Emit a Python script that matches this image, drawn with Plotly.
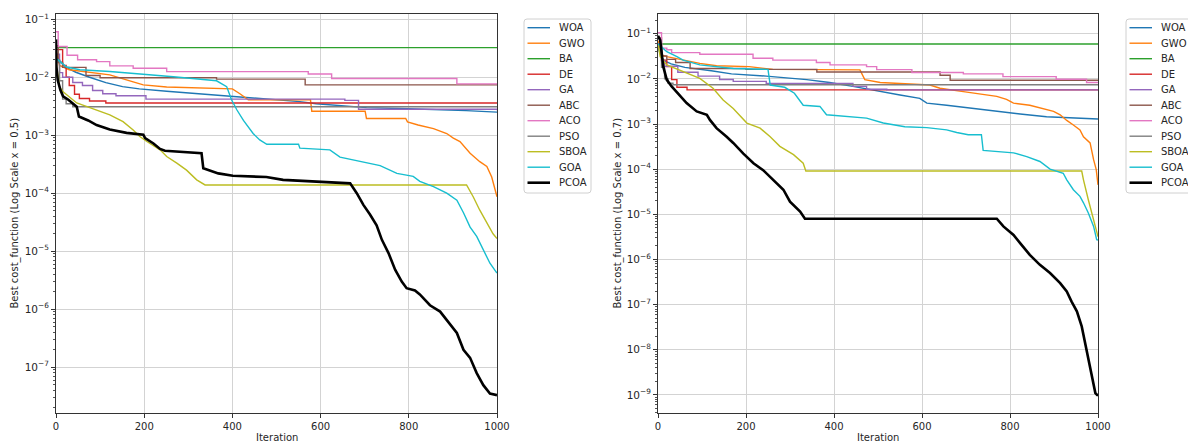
import plotly.graph_objects as go

# ---------------------------------------------------------------
# Convergence curves: (iteration, best cost) breakpoints.
# Suffix _05 -> panel "x = 0.5", _07 -> panel "x = 0.7".
# ---------------------------------------------------------------
ALGORITHMS = ["WOA", "GWO", "BA", "DE", "GA", "ABC", "ACO", "PSO", "SBOA", "GOA", "PCOA"]

WOA_05 = [(0, 2.2e-2), (8, 1.95e-2), (23, 1.48e-2), (45, 1.22e-2), (76, 1.0e-2), (113, 8.1e-3),
          (151, 6.9e-3), (189, 6.3e-3), (251, 5.75e-3), (326, 5.2e-3), (401, 4.7e-3), (477, 4.3e-3),
          (515, 4.0e-3), (553, 3.8e-3), (590, 3.5e-3), (629, 3.3e-3), (665, 3.15e-3), (704, 3.0e-3),
          (780, 2.9e-3), (855, 2.8e-3), (930, 2.66e-3), (1000, 2.5e-3)]
GWO_05 = [(0, 3.0e-2), (8, 1.6e-2), (30, 1.35e-2), (99, 1.15e-2), (122, 1.1e-2), (175, 8.3e-3),
          (198, 7.4e-3), (251, 6.8e-3), (326, 6.5e-3), (400, 6.3e-3), (417, 5.2e-3), (436, 4.1e-3),
          (577, 4.1e-3), (580, 2.6e-3), (701, 2.6e-3), (704, 1.95e-3), (793, 1.95e-3), (797, 1.7e-3),
          (821, 1.5e-3), (856, 1.3e-3), (886, 1.07e-3), (901, 8.9e-4), (916, 7.8e-4), (939, 4.9e-4),
          (961, 3.5e-4), (977, 2.9e-4), (988, 1.9e-4), (995, 1.23e-4), (1000, 8.7e-5)]
BA_05 = [(0, 3.24e-2), (1000, 3.24e-2)]
DE_05 = [(0, 3.0e-2), (15, 1.6e-2), (23, 1.0e-2), (30, 7.2e-3), (42, 5.1e-3), (53, 4.3e-3),
         (76, 3.9e-3), (113, 3.6e-3), (1000, 3.6e-3)]
GA_05 = [(0, 2.5e-2), (8, 1.2e-2), (15, 1.0e-2), (38, 8.1e-3), (60, 7.2e-3), (83, 5.9e-3),
         (106, 5.2e-3), (136, 4.8e-3), (204, 4.2e-3), (655, 4.0e-3), (686, 2.8e-3), (1000, 2.7e-3)]
ABC_05 = [(0, 3.5e-2), (5, 1.8e-2), (15, 1.48e-2), (68, 1.07e-2), (100, 9.8e-3), (364, 9.3e-3),
          (565, 7.4e-3), (1000, 7.4e-3)]
ACO_05 = [(0, 6.1e-2), (5, 3.4e-2), (25, 2.4e-2), (49, 2.0e-2), (92, 1.86e-2), (122, 1.57e-2),
          (175, 1.43e-2), (251, 1.25e-2), (572, 1.14e-2), (625, 9.5e-3), (909, 7.7e-3), (1000, 7.7e-3)]
PSO_05 = [(0, 2.0e-2), (8, 8.7e-3), (15, 4.2e-3), (23, 3.5e-3), (38, 3.1e-3), (1000, 3.1e-3)]
SBOA_05 = [(0, 2.0e-2), (1, 1.63e-2), (8, 6.9e-3), (16, 5.6e-3), (47, 3.6e-3), (92, 2.75e-3),
           (122, 2.24e-3), (152, 1.72e-3), (175, 1.23e-3), (190, 9.5e-4), (206, 7.8e-4), (236, 5.6e-4),
           (251, 4.3e-4), (274, 3.3e-4), (296, 2.5e-4), (319, 1.7e-4), (338, 1.39e-4), (931, 1.39e-4),
           (946, 8.7e-5), (961, 5.1e-5), (976, 3.2e-5), (991, 2.0e-5), (1000, 1.65e-5)]
GOA_05 = [(0, 2.5e-2), (1, 2.1e-2), (9, 1.86e-2), (24, 1.5e-2), (54, 1.35e-2), (122, 1.26e-2),
          (266, 1.02e-2), (326, 9.3e-3), (364, 8.7e-3), (387, 6.9e-3), (398, 4.1e-3), (410, 2.75e-3),
          (425, 1.8e-3), (447, 1.07e-3), (462, 8.3e-4), (478, 7.0e-4), (550, 7.0e-4), (553, 6.0e-4),
          (621, 5.6e-4), (644, 4.2e-4), (735, 3.0e-4), (773, 2.2e-4), (810, 1.95e-4), (825, 1.6e-4),
          (856, 1.3e-4), (886, 1.0e-4), (909, 7.6e-5), (924, 4.6e-5), (939, 2.6e-5), (954, 1.8e-5),
          (969, 1.05e-5), (984, 6.2e-6), (999, 4.3e-6), (1000, 4.3e-6)]
PCOA_05 = [(0, 4.5e-2), (1, 1.5e-2), (4, 8.9e-3), (10, 6.0e-3), (16, 4.7e-3), (28, 4.1e-3),
           (47, 3.1e-3), (52, 2.1e-3), (73, 1.8e-3), (92, 1.5e-3), (122, 1.26e-3), (160, 1.1e-3),
           (198, 1.02e-3), (202, 8.9e-4), (221, 7.2e-4), (236, 5.8e-4), (247, 5.4e-4), (330, 4.9e-4),
           (334, 2.7e-4), (353, 2.45e-4), (368, 2.2e-4), (401, 2.0e-4), (477, 1.9e-4), (515, 1.7e-4),
           (568, 1.62e-4), (625, 1.55e-4), (667, 1.48e-4), (682, 1.0e-4), (697, 6.3e-5), (712, 4.3e-5),
           (727, 2.8e-5), (739, 1.57e-5), (754, 9.3e-6), (769, 4.8e-6), (784, 3.0e-6), (795, 2.3e-6),
           (814, 2.1e-6), (825, 1.8e-6), (848, 1.17e-6), (871, 9.1e-7), (886, 6.6e-7), (909, 3.9e-7),
           (924, 2.0e-7), (939, 1.45e-7), (954, 7.9e-8), (969, 4.9e-8), (984, 3.5e-8), (999, 3.3e-8),
           (1000, 3.3e-8)]

WOA_07 = [(0, 5.0e-2), (8, 3.0e-2), (15, 2.5e-2), (30, 2.14e-2), (61, 1.8e-2), (91, 1.66e-2),
          (121, 1.51e-2), (167, 1.29e-2), (205, 1.23e-2), (246, 1.15e-2), (338, 9.6e-3), (390, 8.3e-3),
          (443, 6.8e-3), (505, 5.2e-3), (550, 4.4e-3), (595, 3.7e-3), (611, 2.9e-3), (656, 2.6e-3),
          (717, 2.2e-3), (770, 1.9e-3), (823, 1.66e-3), (883, 1.45e-3), (944, 1.35e-3), (1000, 1.29e-3)]
GWO_07 = [(0, 7.0e-2), (8, 3.4e-2), (20, 3.1e-2), (57, 2.6e-2), (95, 2.2e-2), (133, 1.95e-2),
          (207, 1.86e-2), (261, 1.62e-2), (459, 1.58e-2), (470, 9.6e-3), (505, 8.3e-3), (618, 7.3e-3),
          (641, 6.2e-3), (694, 5.2e-3), (724, 4.8e-3), (770, 4.1e-3), (792, 3.5e-3), (808, 2.9e-3),
          (845, 2.6e-3), (876, 2.2e-3), (899, 1.9e-3), (914, 1.6e-3), (929, 1.2e-3), (944, 9.5e-4),
          (959, 7.4e-4), (967, 5.2e-4), (982, 3.8e-4), (990, 1.62e-4), (996, 9.8e-5), (1000, 4.5e-5)]
BA_07 = [(0, 5.9e-2), (1000, 5.9e-2)]
DE_07 = [(0, 5.0e-2), (8, 2.6e-2), (20, 1.86e-2), (31, 9.6e-3), (43, 6.5e-3), (66, 5.7e-3),
         (1000, 5.7e-3)]
GA_07 = [(0, 6.0e-2), (8, 2.5e-2), (15, 1.9e-2), (45, 1.4e-2), (91, 1.15e-2), (140, 9.7e-3),
         (171, 8.8e-3), (246, 7.9e-3), (443, 6.8e-3), (474, 5.9e-3), (520, 5.7e-3), (1000, 5.7e-3)]
ABC_07 = [(0, 8.0e-2), (8, 3.2e-2), (20, 2.7e-2), (40, 2.3e-2), (73, 1.7e-2), (200, 1.62e-2),
          (361, 1.42e-2), (641, 1.2e-2), (664, 9.3e-3), (1000, 9.3e-3)]
ACO_07 = [(0, 1.05e-1), (8, 4.8e-2), (20, 4.4e-2), (31, 3.8e-2), (95, 3.5e-2), (216, 2.85e-2),
          (261, 2.6e-2), (360, 2.3e-2), (391, 2.04e-2), (474, 1.86e-2), (497, 1.6e-2), (577, 1.38e-2),
          (694, 1.29e-2), (784, 1.12e-2), (905, 9.8e-3), (974, 8.3e-3), (1000, 8.3e-3)]
PSO_07 = [(0, 5.0e-2), (8, 1.8e-2), (15, 1.0e-2), (23, 8.0e-3), (34, 7.4e-3), (1000, 7.4e-3)]
SBOA_07 = [(0, 6.0e-2), (5, 3.1e-2), (20, 2.04e-2), (57, 1.44e-2), (95, 1.02e-2), (125, 6.2e-3),
           (148, 3.4e-3), (171, 2.2e-3), (202, 1.05e-3), (232, 8.1e-4), (255, 5.2e-4), (277, 3.2e-4),
           (308, 2.1e-4), (330, 1.35e-4), (336, 9.1e-5), (963, 9.1e-5), (967, 5.8e-5), (978, 2.1e-5),
           (990, 7.6e-6), (1000, 3.2e-6)]
GOA_07 = [(0, 6.0e-2), (20, 4.0e-2), (43, 3.1e-2), (57, 2.6e-2), (95, 2.04e-2), (171, 1.7e-2),
          (250, 1.62e-2), (255, 7.3e-3), (288, 6.5e-3), (310, 4.8e-3), (330, 2.6e-3), (368, 2.45e-3),
          (383, 1.6e-3), (474, 1.35e-3), (512, 1.05e-3), (561, 8.7e-4), (611, 8.3e-4), (656, 7.4e-4),
          (679, 6.5e-4), (705, 5.8e-4), (735, 5.8e-4), (739, 2.6e-4), (808, 2.3e-4), (838, 1.9e-4),
          (868, 1.48e-4), (891, 1.0e-4), (921, 8.1e-5), (929, 5.8e-5), (944, 3.5e-5), (959, 2.5e-5),
          (967, 1.8e-5), (978, 1.07e-5), (990, 5.4e-6), (997, 2.75e-6), (1000, 2.7e-6)]
PCOA_07 = [(0, 9.0e-2), (5, 7.2e-2), (12, 1.86e-2), (20, 9.5e-3), (31, 6.8e-3), (50, 4.1e-3),
           (65, 2.9e-3), (88, 1.9e-3), (111, 1.6e-3), (118, 1.23e-3), (133, 8.1e-4), (156, 5.2e-4),
           (171, 3.8e-4), (194, 2.2e-4), (217, 1.35e-4), (239, 9.5e-5), (262, 5.8e-5), (285, 3.5e-5),
           (300, 1.9e-5), (323, 1.15e-5), (334, 8.0e-6), (770, 8.0e-6), (785, 5.4e-6), (808, 3.5e-6),
           (823, 2.3e-6), (845, 1.26e-6), (868, 7.6e-7), (891, 5.0e-7), (914, 3.0e-7), (929, 1.95e-7),
           (940, 1.17e-7), (952, 7.1e-8), (963, 3.3e-8), (974, 1.0e-8), (982, 4.3e-9), (990, 1.9e-9),
           (994, 1.1e-9), (998, 1.0e-9), (1000, 1.0e-9)]

PANEL_05 = [WOA_05, GWO_05, BA_05, DE_05, GA_05, ABC_05, ACO_05, PSO_05, SBOA_05, GOA_05, PCOA_05]
PANEL_07 = [WOA_07, GWO_07, BA_07, DE_07, GA_07, ABC_07, ACO_07, PSO_07, SBOA_07, GOA_07, PCOA_07]

X_TICKS = [0, 200, 400, 600, 800, 1000]
Y_TICKS_05 = [1e-7, 1e-6, 1e-5, 1e-4, 1e-3, 1e-2, 1e-1]
Y_LABELS_05 = ["10<sup>−7</sup>", "10<sup>−6</sup>", "10<sup>−5</sup>", "10<sup>−4</sup>",
               "10<sup>−3</sup>", "10<sup>−2</sup>", "10<sup>−1</sup>"]
Y_TICKS_07 = [1e-9, 1e-8, 1e-7, 1e-6, 1e-5, 1e-4, 1e-3, 1e-2, 1e-1]
Y_LABELS_07 = ["10<sup>−9</sup>", "10<sup>−8</sup>", "10<sup>−7</sup>", "10<sup>−6</sup>",
               "10<sup>−5</sup>", "10<sup>−4</sup>", "10<sup>−3</sup>", "10<sup>−2</sup>",
               "10<sup>−1</sup>"]

# ---------------------------------------------------------------
# Styling
# ---------------------------------------------------------------
COLORS = ["#1f77b4", "#ff7f0e", "#2ca02c", "#d62728", "#9467bd", "#8c564b",
          "#e377c2", "#7f7f7f", "#bcbd22", "#17becf", "#000000"]
# flat-with-drops histories use step lines; gradual descents use straight segments
SHAPES = ["linear", "linear", "hv", "hv", "hv", "hv", "hv", "hv", "linear", "linear", "linear"]
FONT = "DejaVu Sans"
TEXT = "#262626"
W, H = 1188, 443


def px_x(x):
    return x / W


def px_y(y):
    return 1 - y / H


fig = go.Figure()


def add_panel(series, xref, yref):
    for name, color, shape, pts in zip(ALGORITHMS, COLORS, SHAPES, series):
        fig.add_trace(go.Scatter(
            x=[p[0] for p in pts], y=[p[1] for p in pts],
            mode="lines", name=name, showlegend=False,
            line=dict(color=color, width=2.6 if name == "PCOA" else 1.4, shape=shape),
            xaxis=xref, yaxis=yref,
        ))


add_panel(PANEL_05, "x", "y")
add_panel(PANEL_07, "x2", "y2")

y_dom = [px_y(413), px_y(14)]


def x_axis(domain, anchor):
    return dict(domain=domain, anchor=anchor, range=[0, 1000], tickvals=X_TICKS,
                showgrid=True, gridcolor="#d3d3d3", gridwidth=1, zeroline=False,
                showline=True, linecolor="#333333", linewidth=1, mirror=True,
                ticks="outside", ticklen=4, tickcolor="#333333",
                tickfont=dict(family=FONT, size=10, color=TEXT))


def y_axis(domain, anchor, rng, vals, labels):
    return dict(domain=domain, anchor=anchor, type="log", range=rng,
                tickvals=vals, ticktext=labels,
                showgrid=True, gridcolor="#d3d3d3", gridwidth=1, zeroline=False,
                showline=True, linecolor="#333333", linewidth=1, mirror=True,
                ticks="outside", ticklen=4, tickcolor="#333333",
                minor=dict(ticks="outside", ticklen=2, tickcolor="#555555", dtick="D1",
                           showgrid=False),
                tickfont=dict(family=FONT, size=10.5, color=TEXT))


fig.update_layout(
    width=W, height=H,
    margin=dict(l=0, r=0, t=0, b=0, autoexpand=False),
    plot_bgcolor="white", paper_bgcolor="white",
    font=dict(family=FONT, color=TEXT),
    showlegend=False,
    xaxis=x_axis([px_x(56), px_x(497)], "y"),
    yaxis=y_axis(y_dom, "x", [-7.79, -0.909], Y_TICKS_05, Y_LABELS_05),
    xaxis2=x_axis([px_x(658), px_x(1098)], "y2"),
    yaxis2=y_axis(y_dom, "x2", [-9.40, -0.564], Y_TICKS_07, Y_LABELS_07),
)

# ---------------------------------------------------------------
# Legend boxes (line sample + label per algorithm)
# ---------------------------------------------------------------
shapes = []
annotations = []


def legend_box(left, top, width, height, r=3):
    x0, x1 = left, left + width
    y0, y1 = top, top + height
    pts = [
        f"M {px_x(x0 + r)},{px_y(y0)}", f"L {px_x(x1 - r)},{px_y(y0)}",
        f"Q {px_x(x1)},{px_y(y0)} {px_x(x1)},{px_y(y0 + r)}",
        f"L {px_x(x1)},{px_y(y1 - r)}",
        f"Q {px_x(x1)},{px_y(y1)} {px_x(x1 - r)},{px_y(y1)}",
        f"L {px_x(x0 + r)},{px_y(y1)}",
        f"Q {px_x(x0)},{px_y(y1)} {px_x(x0)},{px_y(y1 - r)}",
        f"L {px_x(x0)},{px_y(y0 + r)}",
        f"Q {px_x(x0)},{px_y(y0)} {px_x(x0 + r)},{px_y(y0)} Z",
    ]
    return dict(type="path", path=" ".join(pts), xref="paper", yref="paper",
                line=dict(color="#d0d0d0", width=1), fillcolor="rgba(255,255,255,0.8)",
                layer="above")


def add_legend(left):
    shapes.append(legend_box(left, 19, 67, 174))
    for i, (name, color) in enumerate(zip(ALGORITHMS, COLORS)):
        yc = 27.7 + 15.5 * i
        shapes.append(dict(type="line", xref="paper", yref="paper",
                           x0=px_x(left + 3.5), x1=px_x(left + 26), y0=px_y(yc), y1=px_y(yc),
                           line=dict(color=color, width=2.6 if name == "PCOA" else 1.4),
                           layer="above"))
        annotations.append(dict(text=name, x=px_x(left + 33), y=px_y(yc), xref="paper",
                                yref="paper", showarrow=False, xanchor="left",
                                yanchor="middle", font=dict(family=FONT, size=10, color=TEXT)))


add_legend(524)
add_legend(1126)

ann_font = dict(family=FONT, size=10, color=TEXT)
annotations += [
    dict(text="Iteration", x=px_x(276.5), y=px_y(437), xref="paper", yref="paper",
         showarrow=False, font=ann_font, xanchor="center", yanchor="middle"),
    dict(text="Iteration", x=px_x(878), y=px_y(437), xref="paper", yref="paper",
         showarrow=False, font=ann_font, xanchor="center", yanchor="middle"),
    dict(text="Best cost_function (Log Scale x = 0.5)", x=px_x(14), y=px_y(213.5),
         xref="paper", yref="paper", showarrow=False, textangle=-90, font=ann_font,
         xanchor="center", yanchor="middle"),
    dict(text="Best cost_function (Log Scale x = 0.7)", x=px_x(617), y=px_y(213.5),
         xref="paper", yref="paper", showarrow=False, textangle=-90, font=ann_font,
         xanchor="center", yanchor="middle"),
]
fig.update_layout(shapes=shapes, annotations=annotations)

fig.write_html("out.html")
